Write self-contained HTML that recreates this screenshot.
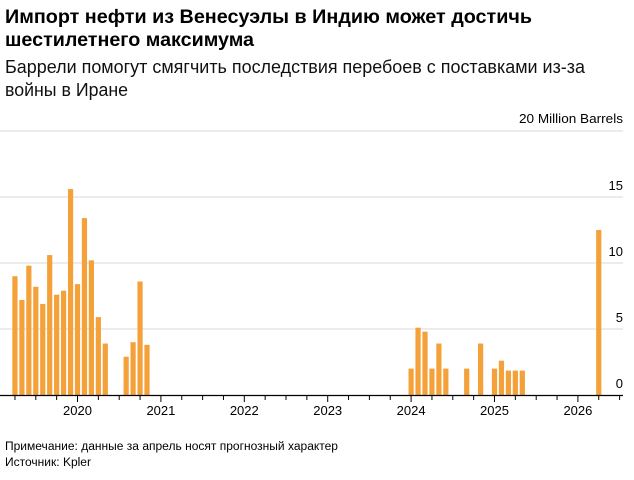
<!DOCTYPE html>
<html><head><meta charset="utf-8"><style>
html,body{margin:0;padding:0;background:#fff;}
svg{display:block;font-family:"Liberation Sans","Noto Sans CJK SC",sans-serif;}
</style></head><body>
<svg width="634" height="480" xmlns="http://www.w3.org/2000/svg">
<text x="5" y="23" font-size="19" font-weight="bold" fill="#000" textLength="527" lengthAdjust="spacingAndGlyphs">Импорт нефти из Венесуэлы в Индию может достичь</text>
<text x="5" y="46" font-size="19" font-weight="bold" fill="#000" textLength="249" lengthAdjust="spacingAndGlyphs">шестилетнего максимума</text>
<text x="5" y="73" font-size="18" fill="#111" textLength="580" lengthAdjust="spacingAndGlyphs">Баррели помогут смягчить последствия перебоев с поставками из-за</text>
<text x="5" y="96" font-size="18" fill="#111" textLength="123" lengthAdjust="spacingAndGlyphs">войны в Иране</text>
<text x="623" y="123" font-size="13" fill="#000" text-anchor="end" textLength="104" lengthAdjust="spacingAndGlyphs">20 Million Barrels</text>
<g stroke="#d9d9d9" stroke-width="1">
<line x1="0" y1="131" x2="623" y2="131"/>
<line x1="0" y1="197" x2="623" y2="197"/>
<line x1="0" y1="263" x2="623" y2="263"/>
<line x1="0" y1="329" x2="623" y2="329"/>
</g>
<g font-size="13" fill="#000" text-anchor="end">
<text x="623" y="190">15</text>
<text x="623" y="256">10</text>
<text x="623" y="322">5</text>
<text x="623" y="388">0</text>
</g>
<g fill="#f4a13a" id="bars"></g>
<line x1="0" y1="395.5" x2="623" y2="395.5" stroke="#000" stroke-width="1.2"/>
<g stroke="#000" stroke-width="1" id="ticks"></g>
<g font-size="13" fill="#000" text-anchor="middle" id="years"></g>
<text x="5" y="450" font-size="11.5" fill="#000" textLength="333" lengthAdjust="spacingAndGlyphs">Примечание: данные за апрель носят прогнозный характер</text>
<text x="5" y="466" font-size="11.5" fill="#000" textLength="86" lengthAdjust="spacingAndGlyphs">Источник: Kpler</text>
<script>
var NS="http://www.w3.org/2000/svg";
var data={"-9":9.0,"-8":7.2,"-7":9.8,"-6":8.2,"-5":6.9,"-4":10.6,"-3":7.6,"-2":7.9,"-1":15.6,"0":8.4,"1":13.4,"2":10.2,"3":5.9,"4":3.9,
"7":2.9,"8":4.0,"9":8.6,"10":3.8,
"48":2.0,"49":5.1,"50":4.8,"51":2.0,"52":3.9,"53":2.0,"56":2.0,"58":3.9,"60":2.0,"61":2.6,"62":1.85,"63":1.85,"64":1.85,"75":12.5};
var g=document.getElementById("bars");
for(var k in data){var m=+k,v=data[k];var cx=77.5+m*6.95;var h=v*13.2;
var r=document.createElementNS(NS,"rect");r.setAttribute("x",cx-2.6);r.setAttribute("width",5.2);r.setAttribute("y",395-h);r.setAttribute("height",h);g.appendChild(r);}
var t=document.getElementById("ticks"),y=document.getElementById("years");
for(var q=-3;q<=26;q++){var x=77.5+q*3*6.95;if(x<2||x>622)continue;var L=document.createElementNS(NS,"line");
L.setAttribute("x1",x);L.setAttribute("x2",x);L.setAttribute("y1",396);L.setAttribute("y2",q%4==0?402:400);t.appendChild(L);
if(q%4==0){var tx=document.createElementNS(NS,"text");tx.setAttribute("x",x);tx.setAttribute("y",415);tx.textContent=2020+q/4;y.appendChild(tx);}}
</script>
</svg>
</body></html>
